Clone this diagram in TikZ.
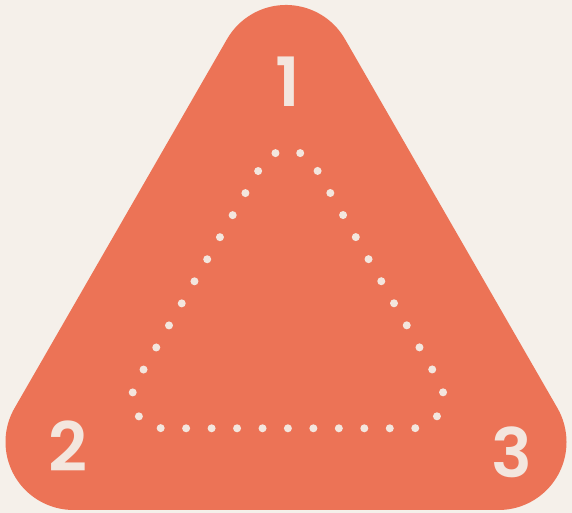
\documentclass[tikz,border=0pt]{standalone}
\usepackage{fontspec}
\setmainfont{Poppins}[BoldFont={Poppins SemiBold}]
\definecolor{bg}{HTML}{F5F0EA}
\definecolor{coral}{HTML}{EC7356}
\definecolor{cream}{HTML}{F3E6DE}
\begin{document}
\begin{tikzpicture}[x=1pt,y=1pt,
  numlabel/.style={text=cream,font=\fontsize{68}{68}\selectfont\bfseries,inner sep=0pt,anchor=center},
  dotline/.style={draw=cream,line width=8pt,line cap=round,dash pattern=on 0pt off 25.47pt}]
\fill[bg] (0,0) rectangle (572,513);
\useasboundingbox (0,0) rectangle (572,513);
% outer rounded triangle
\coordinate (A) at (286,440);
\coordinate (B) at (73.5,71);
\coordinate (C) at (498.5,71);
\fill[coral] ([shift={(30:68pt)}]A) arc[start angle=30,end angle=150,radius=68pt]
  -- ([shift={(150:68pt)}]B) arc[start angle=150,end angle=270,radius=68pt]
  -- ([shift={(270:68pt)}]C) arc[start angle=270,end angle=390,radius=68pt] -- cycle;
% inner dotted rounded triangle
\coordinate (a) at (287.9,331.5);
\coordinate (b) at (163.3,115.7);
\coordinate (c) at (412.5,115.7);
\coordinate (s) at (287.9,84.7);
\draw[dotline] (s) -- ([shift={(270:31pt)}]c) arc[start angle=270,end angle=390,radius=31pt]
  -- ([shift={(30:31pt)}]a) arc[start angle=30,end angle=150,radius=31pt]
  -- ([shift={(150:31pt)}]b) arc[start angle=150,end angle=270,radius=31pt] -- (s);
\node[numlabel] (n1) at (288,431.5) {1};
\node[numlabel] (n2) at (68,66.5) {2};
\node[numlabel] (n3) at (512,61) {3};
\end{tikzpicture}
\end{document}
